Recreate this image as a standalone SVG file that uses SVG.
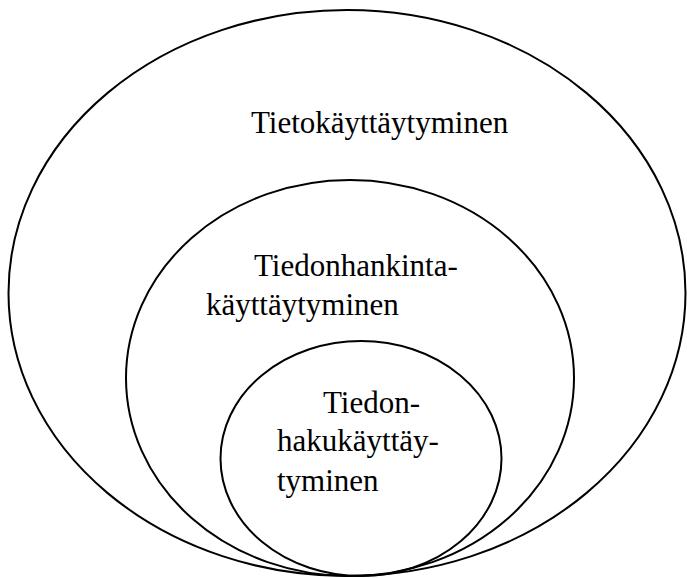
<svg xmlns="http://www.w3.org/2000/svg" width="687" height="578" viewBox="0 0 687 578">
<style>
.e{fill:none;stroke:#000;stroke-width:2}
.t{font-family:"Liberation Serif","Times New Roman",serif;font-size:31px;fill:#000}
</style>
<rect width="687" height="578" fill="#fff"/>
<g id="outer">
<ellipse class="e" cx="347" cy="293" rx="338.5" ry="283"/>
<text class="t" x="251" y="133">Tietokäyttäytyminen</text>
</g>
<g id="middle">
<ellipse class="e" cx="350" cy="378" rx="224" ry="198"/>
<text class="t" x="254" y="276">Tiedonhankinta-</text>
<text class="t" x="206" y="315">käyttäytyminen</text>
</g>
<g id="inner">
<ellipse class="e" cx="361" cy="458.5" rx="140.5" ry="117.5"/>
<text class="t" x="323" y="413">Tiedon-</text>
<text class="t" x="277" y="451">hakukäyttäy-</text>
<text class="t" x="277" y="491">tyminen</text>
</g>
</svg>
